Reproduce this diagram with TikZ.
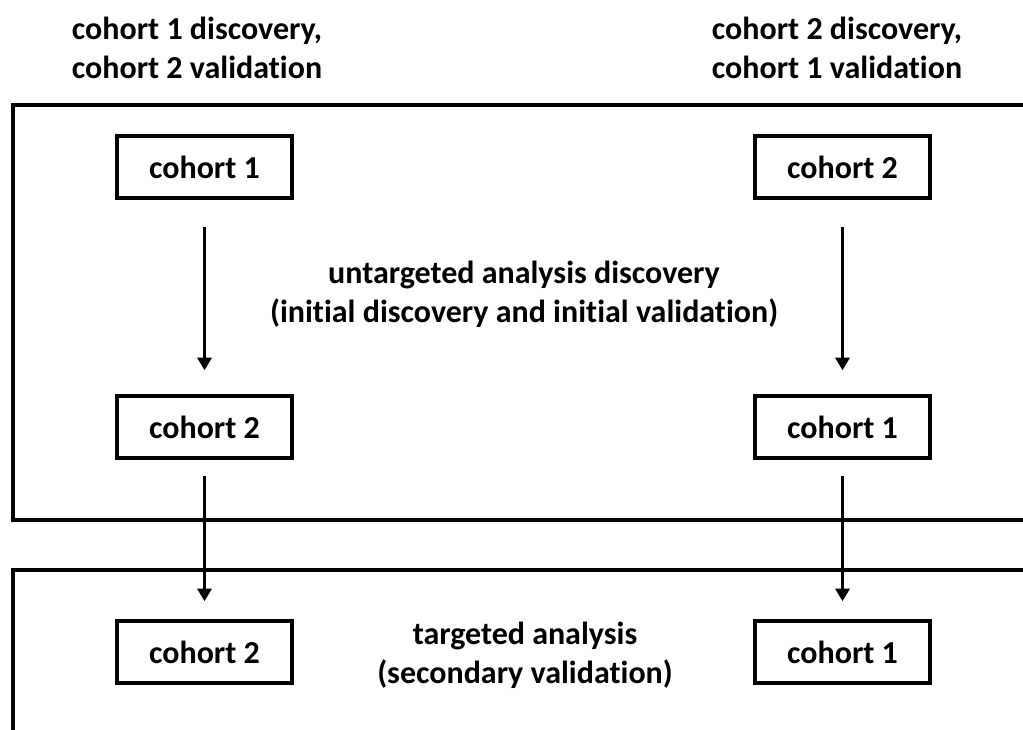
\documentclass[tikz,border=0pt]{standalone}
\usepackage{fontspec}
\setmainfont[Ligatures=NoCommon]{Carlito}
\usetikzlibrary{arrows.meta}
\begin{document}
\begin{tikzpicture}[x=0.75pt,y=-0.75pt,
  txt/.style={font=\bfseries\fontsize{24}{29.5}\selectfont, align=center, inner sep=0pt},
  cbox/.style={draw, line width=2.6pt, minimum width=131.25pt, minimum height=46.5pt, inner sep=0pt, font=\bfseries\fontsize{24}{29.5}\selectfont},
  frame/.style={line width=3pt},
  arr/.style={line width=2.8pt, -{Triangle[width=10.5pt,length=9.5pt]}}]
\useasboundingbox (0,0) rectangle (1023,729);
\clip (0,0) rectangle (1023,729);
\fill[white] (0,0) rectangle (1023,729);
% frames
\draw[frame] (1040,105) -- (13,105) -- (13,520) -- (1040,520);
\draw[frame] (1040,570) -- (13,570) -- (13,740);
% headers
\node[txt] (h1) at (197,48) {cohort 1 discovery,\\cohort 2 validation};
\node[txt] (h2) at (837,48) {cohort 2 discovery,\\cohort 1 validation};
% center texts
\node[txt] (u) at (524,294) {untargeted analysis discovery\\(initial discovery and initial validation)};
\node[txt] (t) at (525,655) {targeted analysis\\(secondary validation)};
% boxes
\node[cbox] (a1) at (204.5,167) {cohort 1};
\node[cbox] (b1) at (842.5,167) {cohort 2};
\node[cbox] (a2) at (204.5,427) {cohort 2};
\node[cbox] (b2) at (842.5,427) {cohort 1};
\node[cbox] (a3) at (204.5,652) {cohort 2};
\node[cbox] (b3) at (842.5,652) {cohort 1};
% arrows
\draw[arr] ([yshift=-20.5pt]a1.south) -- ([yshift=18pt]a2.north);
\draw[arr] ([yshift=-20.5pt]b1.south) -- ([yshift=18pt]b2.north);
\draw[arr] ([yshift=-12pt]a2.south) -- ([yshift=13.5pt]a3.north);
\draw[arr] ([yshift=-12pt]b2.south) -- ([yshift=13.5pt]b3.north);
\end{tikzpicture}
\end{document}
